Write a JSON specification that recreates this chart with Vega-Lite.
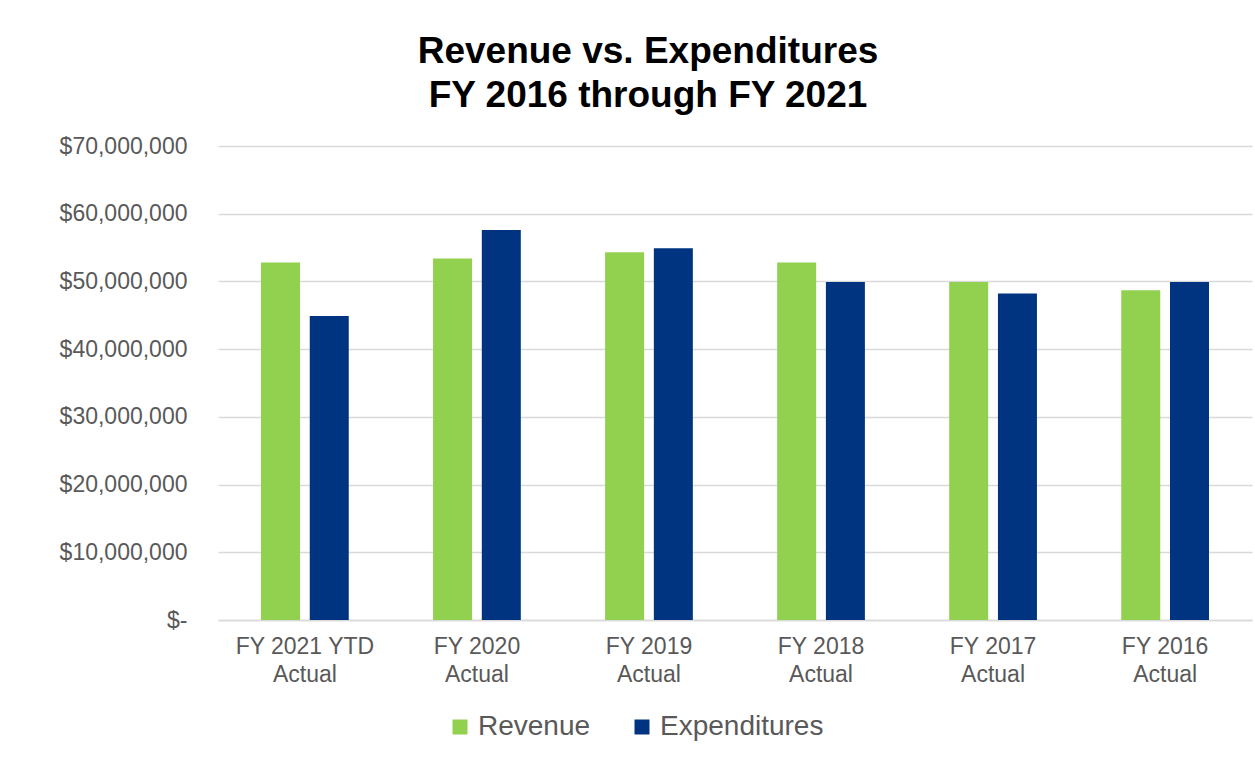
{
  "$schema": "https://vega.github.io/schema/vega-lite/v6.json",
  "width": 1034,
  "height": 474,
  "autosize": {"type": "none"},
  "padding": {"left": 218, "top": 146, "right": 3, "bottom": 146},
  "background": "white",
  "title": {
    "text": ["Revenue vs. Expenditures", "FY 2016 through FY 2021"],
    "font": "Liberation Sans",
    "fontSize": 37,
    "fontWeight": "bold",
    "color": "#000000",
    "anchor": "middle",
    "frame": "group",
    "dx": -87,
    "lineHeight": 44,
    "offset": 20
  },
  "data": {
    "values": [
      {"category": "FY 2021 YTD|Actual", "series": "Revenue", "value": 52800000},
      {"category": "FY 2021 YTD|Actual", "series": "Expenditures", "value": 44900000},
      {"category": "FY 2020|Actual", "series": "Revenue", "value": 53400000},
      {"category": "FY 2020|Actual", "series": "Expenditures", "value": 57600000},
      {"category": "FY 2019|Actual", "series": "Revenue", "value": 54300000},
      {"category": "FY 2019|Actual", "series": "Expenditures", "value": 54900000},
      {"category": "FY 2018|Actual", "series": "Revenue", "value": 52800000},
      {"category": "FY 2018|Actual", "series": "Expenditures", "value": 49900000},
      {"category": "FY 2017|Actual", "series": "Revenue", "value": 49900000},
      {"category": "FY 2017|Actual", "series": "Expenditures", "value": 48200000},
      {"category": "FY 2016|Actual", "series": "Revenue", "value": 48700000},
      {"category": "FY 2016|Actual", "series": "Expenditures", "value": 49900000}
    ]
  },
  "mark": {"type": "bar"},
  "encoding": {
    "x": {
      "field": "category",
      "type": "nominal",
      "sort": null,
      "scale": {"paddingInner": 0.49, "paddingOuter": 0.25},
      "axis": {
        "title": null,
        "labelExpr": "split(datum.label, '|')",
        "labelAngle": 0,
        "labelFont": "Liberation Sans",
        "labelFontSize": 23,
        "labelColor": "#595959",
        "labelLineHeight": 28,
        "labelPadding": 15,
        "ticks": false,
        "domainColor": "#d9d9d9",
        "domainWidth": 1.5,
        "grid": false
      }
    },
    "xOffset": {
      "field": "series",
      "type": "nominal",
      "sort": ["Revenue", "Expenditures"],
      "scale": {"paddingInner": 0.2, "paddingOuter": 0}
    },
    "y": {
      "field": "value",
      "type": "quantitative",
      "scale": {"domain": [0, 70000000], "nice": false},
      "axis": {
        "title": null,
        "values": [0, 10000000, 20000000, 30000000, 40000000, 50000000, 60000000, 70000000],
        "labelExpr": "datum.value == 0 ? '$-\u00a0\u00a0' : '$' + format(datum.value, ',')",
        "labelFont": "Liberation Sans",
        "labelFontSize": 23,
        "labelColor": "#595959",
        "labelPadding": 31,
        "ticks": false,
        "domain": false,
        "gridColor": "#d9d9d9",
        "gridWidth": 1.5
      }
    },
    "color": {
      "field": "series",
      "type": "nominal",
      "scale": {"domain": ["Revenue", "Expenditures"], "range": ["#92D050", "#003380"]},
      "legend": {
        "title": null,
        "orient": "none",
        "direction": "horizontal",
        "legendX": 228,
        "legendY": 567,
        "symbolType": "square",
        "symbolSize": 225,
        "symbolStrokeWidth": 0,
        "labelFont": "Liberation Sans",
        "labelFontSize": 28,
        "labelColor": "#595959",
        "labelOffset": 4,
        "labelLimit": 0,
        "columnPadding": 37
      }
    }
  },
  "config": {"view": {"stroke": null}}
}
